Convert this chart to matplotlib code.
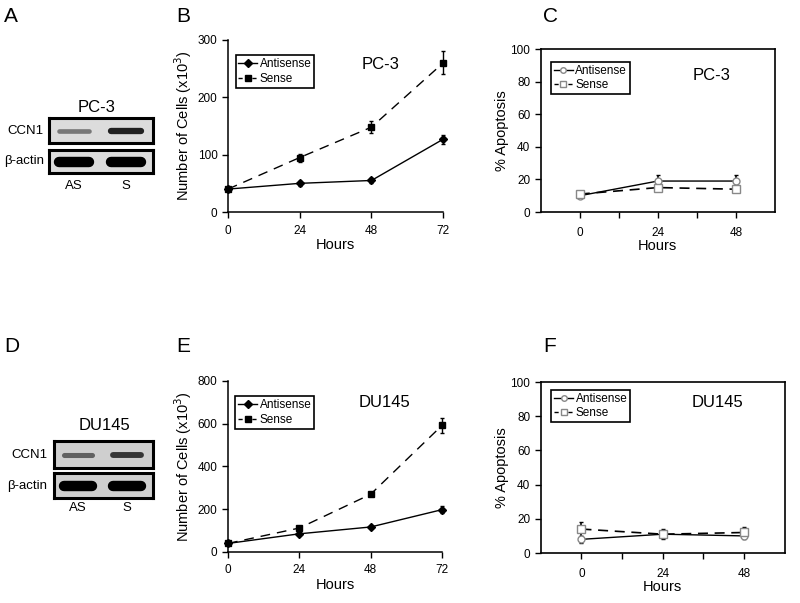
import matplotlib
matplotlib.use("Agg")
import matplotlib.pyplot as plt
from matplotlib.lines import Line2D

plt.rcParams['font.family'] = ['Liberation Sans', 'DejaVu Sans']

# cell growth (x10^3 cells)
hours_growth = [0, 24, 48, 72]
pc3_antisense = [40, 50, 55, 127]
pc3_antisense_err = [3, 4, 5, 8]
pc3_sense = [40, 95, 148, 260]
pc3_sense_err = [3, 7, 10, 20]

du145_antisense = [40, 85, 117, 198]
du145_antisense_err = [5, 5, 6, 15]
du145_sense = [40, 112, 270, 592]
du145_sense_err = [5, 8, 10, 35]

# apoptosis (%)
hours_apop = [0, 24, 48]
pc3_apop_antisense = [10, 19, 19]
pc3_apop_antisense_err = [1, 4, 4]
pc3_apop_sense = [11, 15, 14]
pc3_apop_sense_err = [1, 2, 2]
du145_apop_antisense = [8, 11, 10]
du145_apop_antisense_err = [2, 2, 2]
du145_apop_sense = [14, 11, 12]
du145_apop_sense_err = [4, 3, 3]

# western blot band intensities (0 = none, 1 = black)
lanes = ['AS', 'S']
pc3_ccn1 = [0.45, 0.85]
pc3_actin = [1.0, 1.0]
du145_ccn1 = [0.55, 0.75]
du145_actin = [1.0, 1.0]

fig = plt.figure(figsize=(8, 6.03), dpi=100)


def px(x, y):
    return x / 800, 1 - y / 603


def blot(rect, intensities, thick, bg, lane_x):
    ax = fig.add_axes(rect)
    ax.set_xlim(0, 1)
    ax.set_ylim(0, 1)
    ax.set_facecolor(bg)
    ax.set_xticks([])
    ax.set_yticks([])
    for sp in ax.spines.values():
        sp.set_linewidth(2.2)
    for x, v in zip(lane_x, intensities):
        g = str(round(0.85 - 0.85 * v, 2))
        ax.plot([x - 0.14, x + 0.14], [0.5, 0.5], color=g, lw=thick * (0.4 + 0.6 * v),
                solid_capstyle='round')


def western(name, ccn1, actin, box_l, box_r, y_ccn1, y_actin, bg, title_xy, label_x, lane_y):
    w = (box_r - box_l) / 800
    blot([box_l / 800, 1 - y_ccn1[1] / 603, w, (y_ccn1[1] - y_ccn1[0]) / 603], ccn1, 5, bg, [0.24, 0.74])
    blot([box_l / 800, 1 - y_actin[1] / 603, w, (y_actin[1] - y_actin[0]) / 603], actin, 7.5, bg, [0.24, 0.74])
    fig.text(*px(*title_xy), name, fontsize=12, ha='center', va='center')
    fig.text(*px(label_x, (y_ccn1[0] + y_ccn1[1]) / 2), 'CCN1', fontsize=9.5, ha='right', va='center')
    fig.text(*px(label_x, (y_actin[0] + y_actin[1]) / 2), 'β-actin', fontsize=9.5, ha='right', va='center')
    for lx, lab in zip([0.24, 0.74], lanes):
        fig.text(*px(box_l + lx * (box_r - box_l), lane_y), lab, fontsize=9.5, ha='center', va='center')


def make_legend(ax, handles, x, top):
    leg = ax.legend(handles=handles, loc='upper left', bbox_to_anchor=(x, top), borderaxespad=0,
                    fontsize=8.5, fancybox=False, edgecolor='black', handlelength=1.6,
                    handletextpad=0.2, borderpad=0.25, labelspacing=0.2, framealpha=1)
    leg.get_frame().set_linewidth(1.2)


def growth(rect, as_y, as_e, s_y, s_e, ymax, step, name, name_xy):
    ax = fig.add_axes(rect)
    ax.errorbar(hours_growth, as_y, yerr=as_e, color='black', lw=1, marker='D', ms=4,
                capsize=1.5, elinewidth=1, clip_on=False)
    ax.errorbar(hours_growth, s_y, yerr=s_e, color='black', lw=1, ls=(0, (7, 5)), marker='s', ms=5,
                capsize=1.5, elinewidth=1, clip_on=False)
    ax.set_xlim(0, 72)
    ax.set_ylim(0, ymax)
    ax.set_xticks(hours_growth)
    ax.set_yticks(range(0, ymax + 1, step))
    ax.spines['top'].set_visible(False)
    ax.spines['right'].set_visible(False)
    ax.spines['left'].set_linewidth(1.1)
    ax.spines['bottom'].set_linewidth(1.1)
    ax.tick_params(direction='out', length=4, width=1, labelsize=8.5, colors='black')
    ax.tick_params(axis='x', pad=5)
    ax.set_xlabel('Hours', fontsize=10.5, labelpad=1)
    ax.set_ylabel('Number of Cells (x10$^3$)', fontsize=10.5, labelpad=3)
    handles = [Line2D([], [], color='black', lw=1, marker='D', ms=4, label='Antisense'),
               Line2D([], [], color='black', lw=1, ls=(0, (3, 2)), marker='s', ms=5, label='Sense')]
    make_legend(ax, handles, 0.035, 0.91)
    ax.text(name_xy[0], name_xy[1], name, transform=ax.transAxes, fontsize=12, ha='center', va='center')
    return ax


def apoptosis(rect, as_y, as_e, s_y, s_e, name, name_xy, leg_top):
    ax = fig.add_axes(rect)
    ax.errorbar(hours_apop, as_y, yerr=as_e, color='black', lw=1, marker='o', ms=5, mfc='white',
                mec='#888888', capsize=1.5, elinewidth=1.2, ecolor='black', clip_on=False)
    ax.errorbar(hours_apop, s_y, yerr=s_e, color='black', lw=1.2, ls=(0, (6, 4)), marker='s', ms=6,
                mfc='white', mec='#888888', capsize=1.5, elinewidth=1.2, ecolor='black', clip_on=False)
    ax.set_xlim(-12, 60)
    ax.set_ylim(0, 100)
    ax.set_xticks([0, 12, 24, 36, 48])
    ax.set_xticklabels(['0', '', '24', '', '48'])
    ax.set_yticks(range(0, 101, 20))
    for sp in ax.spines.values():
        sp.set_linewidth(1.2)
    ax.tick_params(direction='out', length=4, width=1, labelsize=8.5, colors='black')
    ax.tick_params(axis='x', pad=7)
    ax.set_xlabel('Hours', fontsize=10.5, labelpad=0)
    ax.set_ylabel('% Apoptosis', fontsize=10.5, labelpad=1)
    handles = [Line2D([], [], color='black', lw=1, marker='o', ms=4, mfc='white', mec='#888888',
                      label='Antisense'),
               Line2D([], [], color='black', lw=1, ls=(0, (3, 2)), marker='s', ms=4.5, mfc='white',
                      mec='#888888', label='Sense')]
    make_legend(ax, handles, 0.043, leg_top)
    ax.text(name_xy[0], name_xy[1], name, transform=ax.transAxes, fontsize=12, ha='center', va='center')
    return ax


# panel A and D: blots
western('PC-3', pc3_ccn1, pc3_actin, 49, 153, (118, 143), (150, 173), '#dcdcdc', (97, 107), 44, 186)
western('DU145', du145_ccn1, du145_actin, 54, 153, (441, 468), (473, 498), '#cfcfcf', (105, 425), 47, 508)

# panel B and E: growth
growth([0.285, 0.6484, 0.269, 0.2853], pc3_antisense, pc3_antisense_err, pc3_sense, pc3_sense_err,
       300, 100, 'PC-3', (0.707, 0.855))
growth([0.285, 0.0846, 0.2675, 0.2836], du145_antisense, du145_antisense_err, du145_sense, du145_sense_err,
       800, 200, 'DU145', (0.73, 0.877))

# panel C and F: apoptosis
apoptosis([0.676, 0.6484, 0.2925, 0.2703], pc3_apop_antisense, pc3_apop_antisense_err,
          pc3_apop_sense, pc3_apop_sense_err, 'PC-3', (0.73, 0.84), 0.92)
apoptosis([0.676, 0.0829, 0.305, 0.2836], du145_apop_antisense, du145_apop_antisense_err,
          du145_apop_sense, du145_apop_sense_err, 'DU145', (0.725, 0.883), 0.953)

# panel letters
for letter, (x, y) in zip('ABCDEF', [(4, 16), (176, 16), (543, 16), (4, 347), (176, 347), (543, 347)]):
    fig.text(x / 800, 1 - y / 603, letter, fontsize=15, va='center', ha='left')

fig.savefig('out.png', dpi=100)
